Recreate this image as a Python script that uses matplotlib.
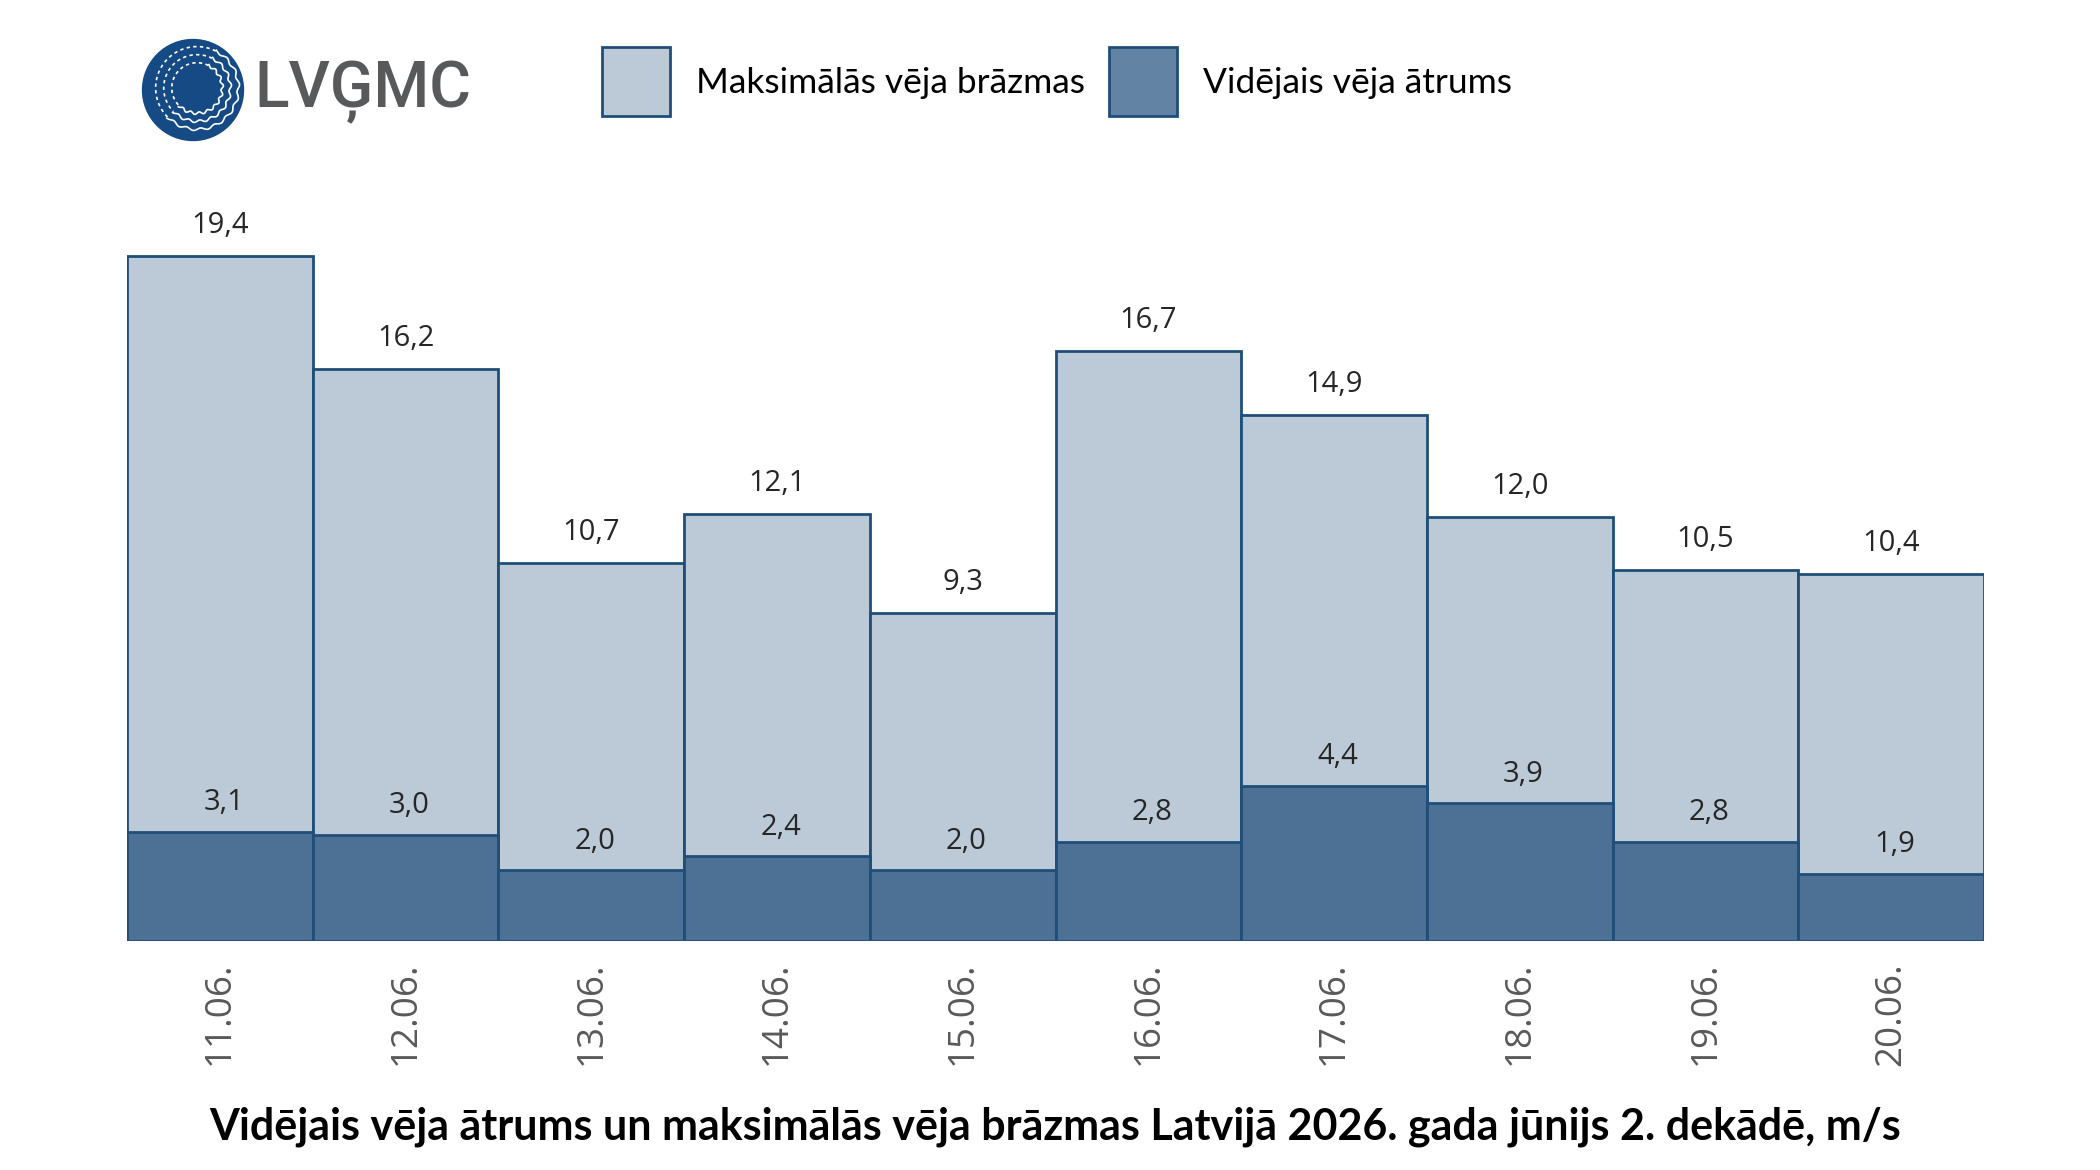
import numpy as np
import matplotlib
matplotlib.use("Agg")
from matplotlib import pyplot as plt
from matplotlib.patches import Rectangle, Circle

dates = ["11.06.", "12.06.", "13.06.", "14.06.", "15.06.",
         "16.06.", "17.06.", "18.06.", "19.06.", "20.06."]
max_gusts = [19.4, 16.2, 10.7, 12.1, 9.3, 16.7, 14.9, 12.0, 10.5, 10.4]
avg_speed = [3.1, 3.0, 2.0, 2.4, 2.0, 2.8, 4.4, 3.9, 2.8, 1.9]

light = "#bccad8"
dark = "#4d7194"
edge = "#1f4e79"
label_font = ["Open Sans", "DejaVu Sans"]
text_font = ["Lato", "DejaVu Sans"]

fig = plt.figure(figsize=(21, 11.7), dpi=100)
ax = fig.add_axes([127 / 2100, 1 - 941 / 1170, (1984 - 127) / 2100, (941 - 182) / 1170])

x = np.arange(len(dates))
ax.bar(x, max_gusts, width=1.0, color=light, edgecolor=edge, linewidth=2)
ax.bar(x, avg_speed, width=1.0, color=dark, edgecolor=edge, linewidth=2)

for i in range(len(dates)):
    ax.annotate(f"{max_gusts[i]:.1f}".replace(".", ","), (x[i], max_gusts[i]),
                xytext=(0, 22), textcoords="offset points", ha="center", va="center",
                fontsize=21, color="#262626", family=label_font)
    ax.annotate(f"{avg_speed[i]:.1f}".replace(".", ","), (x[i] + 0.02, avg_speed[i]),
                xytext=(0, 21), textcoords="offset points", ha="center", va="center",
                fontsize=21, color="#262626", family=label_font)

ax.set_xlim(-0.5, len(dates) - 0.5)
ax.set_ylim(0, 21.5)
ax.set_xticks(x)
ax.set_xticklabels(dates, rotation=90, fontsize=26.5, color="#595959", family=label_font)
ax.tick_params(axis="x", length=0, pad=15)
ax.set_yticks([])
for s in ax.spines.values():
    s.set_visible(False)

# title
fig.text(1055 / 2100, 1 - 1127 / 1170, "Vidējais vēja ātrums un maksimālās vēja brāzmas Latvijā 2026. gada jūnijs 2. dekādē, m/s",
         ha="center", va="center", fontsize=31, fontweight="bold", color="black", family=text_font)

# legend
for px, txt, col in [(602, "Maksimālās vēja brāzmas", light), (1109, "Vidējais vēja ātrums", "#6283a3")]:
    fig.patches.append(Rectangle((px / 2100, 1 - 116 / 1170), 68 / 2100, 69 / 1170,
                                 transform=fig.transFigure, facecolor=col, edgecolor=edge, linewidth=2))
    fig.text((px + 94) / 2100, 1 - 83 / 1170, txt, ha="left", va="center",
             fontsize=25.5, color="black", family=text_font)

# logo
lax = fig.add_axes([(193 - 53) / 2100, 1 - (90 + 53) / 1170, 106 / 2100, 106 / 1170])
lax.set_xlim(-1.05, 1.05)
lax.set_ylim(-1.05, 1.05)
lax.set_aspect("equal")
lax.axis("off")
lax.add_patch(Circle((0, 0), 1.0, color="#154a84"))
for r in [0.5, 0.66, 0.82]:
    t = np.linspace(-0.75 * np.pi, 0.35 * np.pi, 300)
    rr = r + 0.025 * np.sin(t * 18)
    lax.plot(0.08 + rr * np.cos(t), 0.04 + rr * np.sin(t), color="white", lw=1.2)
    t2 = np.linspace(0.35 * np.pi, 1.25 * np.pi, 100)
    lax.plot(0.08 + r * np.cos(t2), 0.04 + r * np.sin(t2), color="white", lw=1.2, ls=(0, (2, 2)))
fig.text(254 / 2100, 1 - 92 / 1170, "LVĢMC", ha="left", va="center", fontsize=46,
         fontweight="medium", color="#58595b", family=["Roboto", "DejaVu Sans"])

fig.savefig("out.png", dpi=100)
